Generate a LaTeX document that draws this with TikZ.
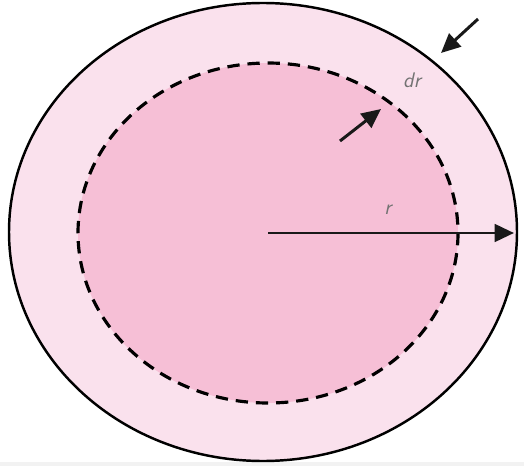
\documentclass[tikz,border=0pt]{standalone}
\usepackage{tikz}
\usetikzlibrary{arrows.meta}
\definecolor{shellpink}{HTML}{FAE1ED}
\definecolor{corepink}{HTML}{F6BFD6}
\definecolor{stripgray}{HTML}{F2F2F2}
\begin{document}
\begin{tikzpicture}[x=0.02cm, y=-0.02cm, >={Triangle[length=11pt, width=10pt]},
      arr/.style={->, line width=1.7pt, black!90},
      lbl/.style={font=\sffamily\itshape\large, text=black!55}]

    % ============================
    % FRAME (picture margins + grey strip at the bottom)
    % ============================
    \useasboundingbox (0,0) rectangle (524,466);
    \fill[stripgray] (0,462) rectangle (524,466);

    % ============================
    % SHELLS
    % ============================
    % outer shell (solid rim)
    \draw[fill=shellpink, line width=1.4pt] (263,232) ellipse [x radius=254, y radius=229];
    % inner sphere (dashed rim)
    \draw[fill=corepink, line width=1.8pt, dash pattern=on 7pt off 4.5pt] (268,233) ellipse [x radius=190, y radius=170];

    % ============================
    % RADIUS r
    % ============================
    \coordinate (ctr)  at (268,233);
    \coordinate (rtip) at (514,233);
    \draw[arr] (ctr) -- (rtip);
    \node[lbl] (rlbl) at (388,210) {r};

    % ============================
    % SHELL THICKNESS dr
    % ============================
    \node[lbl] (drlbl) at (412,80) {dr};
    \coordinate (otail) at (478,19);
    \coordinate (otip)  at (441,53);
    \draw[arr] (otail) -- (otip);
    \coordinate (itail) at (340,141);
    \coordinate (itip)  at (381,109);
    \draw[arr] (itail) -- (itip);

    \end{tikzpicture}
\end{document}
